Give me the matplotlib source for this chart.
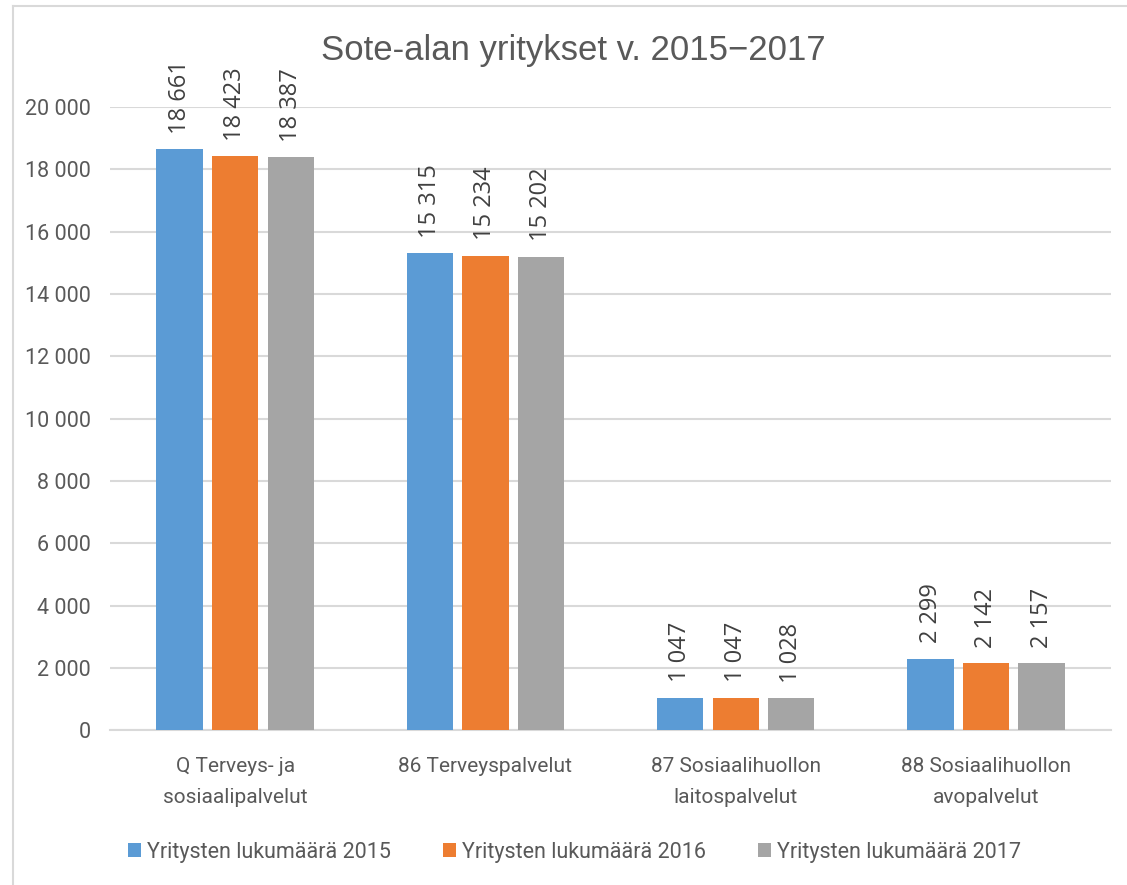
import numpy as np
import matplotlib.pyplot as plt
from matplotlib.lines import Line2D

categories = ['Q Terveys- ja\nsosiaalipalvelut', '86 Terveyspalvelut',
              '87 Sosiaalihuollon\nlaitospalvelut', '88 Sosiaalihuollon\navopalvelut']
years = ['2015', '2016', '2017']
v2015 = [18661, 15315, 1047, 2299]
v2016 = [18423, 15234, 1047, 2142]
v2017 = [18387, 15202, 1028, 2157]
colors = ['#5B9BD5', '#ED7D31', '#A5A5A5']

narrow = ['Roboto', 'DejaVu Sans']
txt = '#595959'
grid = '#D9D9D9'

def fmt(v):
    return f"{v:,}".replace(",", " ")

fig = plt.figure(figsize=(11.27, 8.85), dpi=100)
ax = fig.add_axes([0.0976, 0.175, 0.8884, 0.704])

x = np.arange(len(categories))
step = 0.222
width = 0.185
for i, (vals, col, yr) in enumerate(zip([v2015, v2016, v2017], colors, years)):
    xs = x + (i - 1) * step
    ax.bar(xs, vals, width, color=col, label='Yritysten lukumäärä ' + yr, zorder=3)
    for xx, v in zip(xs, vals):
        ax.annotate(fmt(v), (xx, v), xytext=(0, 11), textcoords='offset points',
                    rotation=90, ha='center', va='bottom', fontsize=17,
                    color='#404040', family=['Open Sans', 'DejaVu Sans'])

ax.set_xlim(-0.5, 3.5)
ax.set_ylim(0, 20000)
ax.set_yticks(np.arange(0, 20001, 2000))
ax.set_yticklabels([fmt(t) for t in range(0, 20001, 2000)], family=narrow,
                   fontsize=15.5, color=txt)
ax.set_xticks(x)
ax.set_xticklabels(categories, family=narrow, fontsize=15, color=txt, linespacing=1.85)
ax.tick_params(axis='y', length=0, pad=14)
ax.tick_params(axis='x', length=0, pad=19)
ax.grid(axis='y', color=grid, linewidth=1.5, zorder=0)
for s in ['top', 'right', 'left']:
    ax.spines[s].set_visible(False)
ax.spines['bottom'].set_color(grid)
ax.spines['bottom'].set_linewidth(1.5)

fig.text(0.509, 0.943, 'Sote-alan yritykset v. 2015\u22122017', ha='center', va='center',
         fontsize=25, color=txt, family=['Liberation Sans', 'DejaVu Sans'])

leg = fig.legend(loc='center', bbox_to_anchor=(0.51, 0.037), ncol=3, frameon=False,
                 prop={'family': narrow, 'size': 15.5}, handlelength=0.6, handleheight=0.6,
                 handletextpad=0.3, columnspacing=2.4)
for t in leg.get_texts():
    t.set_color(txt)

# chart frame
fig.add_artist(Line2D([13 / 1127, 13 / 1127], [0, 1 - 6 / 885], color=grid, linewidth=1.5))
fig.add_artist(Line2D([13 / 1127, 1], [1 - 6 / 885, 1 - 6 / 885], color=grid, linewidth=1.5))

fig.savefig('out.png', dpi=100)
